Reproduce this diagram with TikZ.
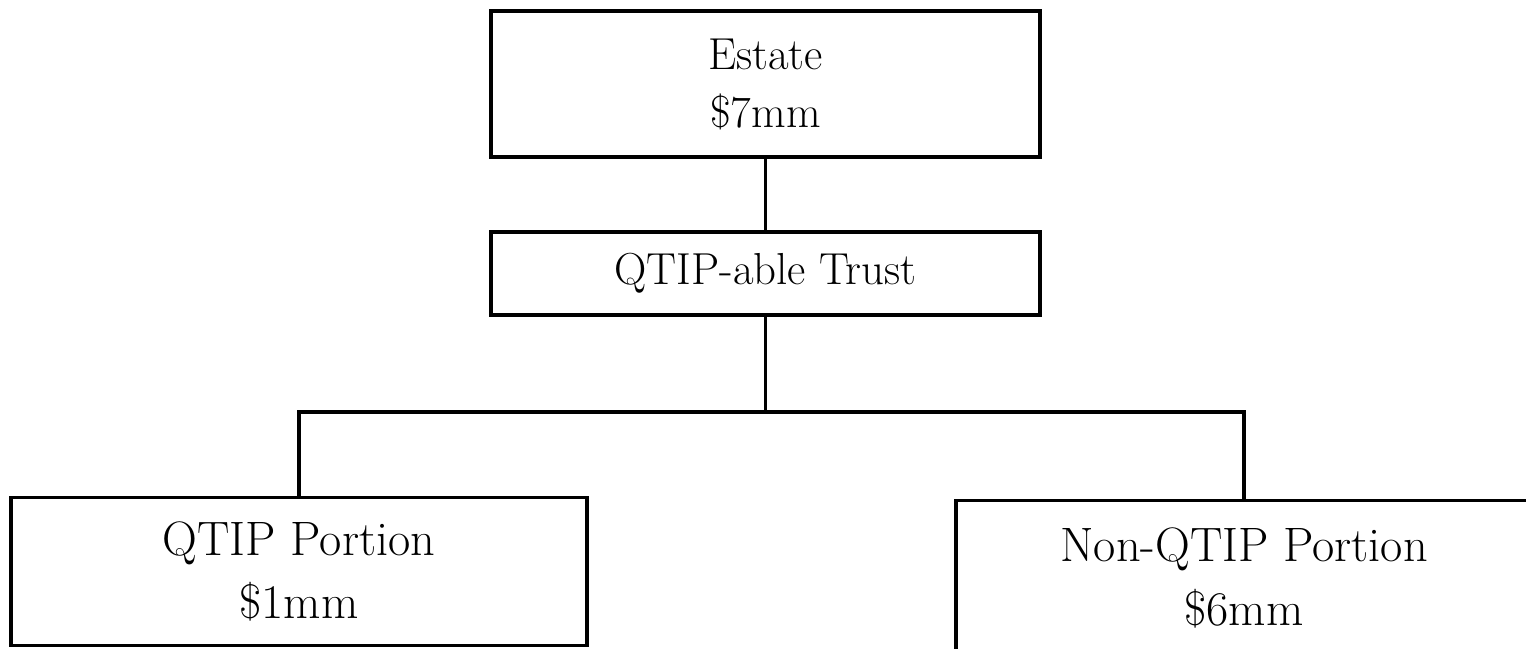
\documentclass[tikz,border=0pt]{standalone}
\usetikzlibrary{positioning, calc}

\begin{document}
\begin{tikzpicture}

\tikzstyle{box} = [rectangle, draw=black, line width=2pt, minimum width=10.98cm, align=center, font=\fontsize{25.5}{33}\selectfont]
\tikzstyle{bigbox} = [rectangle, draw=black, line width=2pt, minimum width=11.52cm, align=center, font=\fontsize{27.5}{36}\selectfont]
\tikzstyle{link} = [draw=black, line width=2pt]

\useasboundingbox (0,0) rectangle (30.52,-12.96);
\clip (0,0) rectangle (30.52,-12.96);

% Top
\node[box, minimum height=2.92cm] (estate) at (15.31,-1.68) {Estate\\\$7mm};
\node[box, minimum height=1.66cm, below=1.43cm of estate] (trust) {QTIP-able Trust};

\draw[link] (estate) -- (trust);

% Split
\coordinate[below=1.9cm of trust] (fork);
\node[bigbox, minimum height=2.96cm, below=3.58cm of trust, xshift=-9.33cm] (qtip) {QTIP Portion\\\$1mm};
\node[bigbox, minimum height=3.1cm, below=3.64cm of trust, xshift=9.57cm] (nonqtip) {Non-QTIP Portion\\\$6mm};

\draw[link] (trust) -- (fork);
\draw[link] (qtip.north) |- (fork) -| (nonqtip.north);

\end{tikzpicture}
\end{document}
